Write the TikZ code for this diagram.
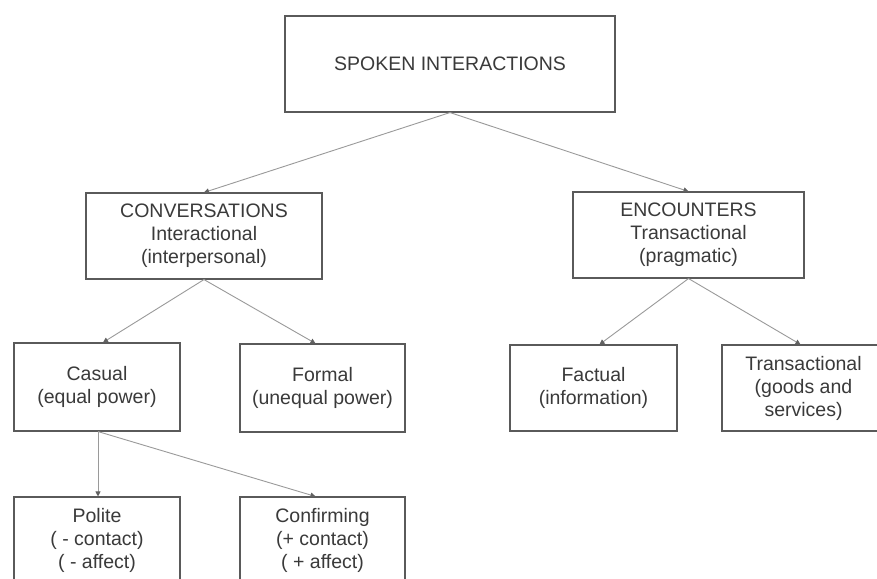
\documentclass[tikz,border=0pt]{standalone}
\usepackage{fontspec}
\setmainfont{Liberation Sans}
\usetikzlibrary{arrows.meta}
\definecolor{boxline}{HTML}{5A5A5A}
\definecolor{linkline}{HTML}{9A9A9A}
\definecolor{ink}{HTML}{3A3A3A}
\tikzset{
  box/.style={draw=boxline, line width=1.1pt, fill=white, rectangle,
    align=center, text=ink, inner sep=0pt,
    font=\fontsize{19.5}{23}\selectfont},
  link/.style={draw=linkline, line width=0.9pt,
    -{Triangle[length=5pt,width=5pt,color=ink!80]}},
}
\begin{document}
\begin{tikzpicture}[x=1pt,y=-1pt]
\path[use as bounding box, clip] (0,0) rectangle (877,578);
\fill[white] (0,0) rectangle (877,578);

% top level
\node[box, minimum width=330pt, minimum height=96pt] (spoken) at (450,64) {SPOKEN INTERACTIONS};

% second level
\node[box, minimum width=236pt, minimum height=86pt] (conv) at (204,236)
  {CONVERSATIONS\\Interactional\\(interpersonal)};
\node[box, minimum width=231pt, minimum height=86pt] (enc) at (688.5,235)
  {ENCOUNTERS\\Transactional\\(pragmatic)};

% third level
\node[box, minimum width=166pt, minimum height=88pt] (casual) at (97,387)
  {Casual\\(equal power)};
\node[box, minimum width=165pt, minimum height=88pt] (formal) at (322.5,388)
  {Formal\\(unequal power)};
\node[box, minimum width=167pt, minimum height=86pt] (factual) at (593.5,388)
  {Factual\\(information)};
\node[box, minimum width=163pt, minimum height=86pt] (trans) at (803.5,388)
  {Transactional\\(goods and\\services)};

% fourth level
\node[box, minimum width=166pt, minimum height=86pt] (polite) at (97,540)
  {Polite\\( - contact)\\( - affect)};
\node[box, minimum width=165pt, minimum height=86pt] (confirm) at (322.5,540)
  {Confirming\\(+ contact)\\( + affect)};

% connectors
\draw[link] (spoken.south) -- (conv.north);
\draw[link] (spoken.south) -- (enc.north);
\draw[link] (conv.south) -- ([xshift=6pt]casual.north);
\draw[link] (conv.south) -- ([xshift=-7pt]formal.north);
\draw[link] (enc.south) -- ([xshift=6pt]factual.north);
\draw[link] (enc.south) -- ([xshift=-3pt]trans.north);
\draw[link] ([xshift=1pt]casual.south) -- ([xshift=1pt]polite.north);
\draw[link] ([xshift=1pt]casual.south) -- ([xshift=-7pt]confirm.north);
\end{tikzpicture}
\end{document}
